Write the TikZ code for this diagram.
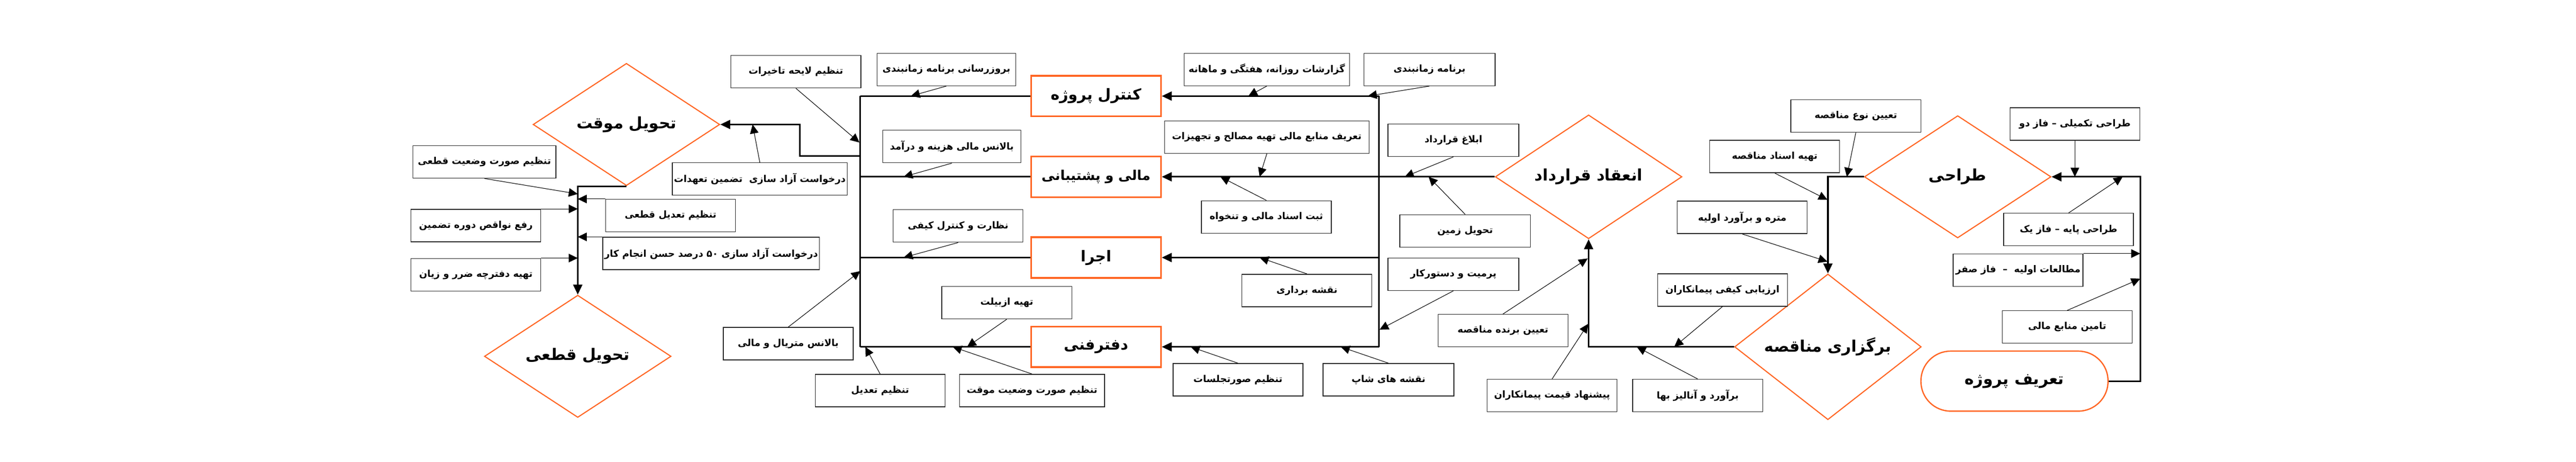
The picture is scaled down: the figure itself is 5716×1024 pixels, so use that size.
\documentclass[tikz,border=0pt]{standalone}
\usepackage{fontspec}
\usepackage{xcolor}
\usetikzlibrary{shapes.geometric, arrows.meta, positioning}
\newfontfamily\arabicfont[Script=Arabic]{DejaVu Sans}
\TeXXeTstate=1
\definecolor{orangeline}{RGB}{255,102,36}
\newcommand{\fa}[1]{\beginR #1\endR}

\begin{document}
\begin{tikzpicture}[
    x=0.01cm, y=-0.01cm,
    task/.style={rectangle, draw=black!85, line width=0.45pt, fill=white, minimum width=2.88cm, minimum height=0.72cm, inner sep=1pt, font=\arabicfont\bfseries\fontsize{6}{7}\selectfont},
    stage/.style={rectangle, draw=orangeline, line width=1.1pt, fill=white, minimum width=2.88cm, minimum height=0.9cm, inner sep=1pt, font=\arabicfont\bfseries\fontsize{9.5}{11}\selectfont},
    phase/.style={diamond, draw=orangeline, line width=0.7pt, minimum width=4.14cm, minimum height=2.71cm, inner sep=0pt, font=\arabicfont\bfseries\fontsize{10}{12}\selectfont},
    start/.style={rectangle, rounded corners=0.66cm, draw=orangeline, line width=0.8pt, minimum width=4.15cm, minimum height=1.33cm, font=\arabicfont\bfseries\fontsize{10}{12}\selectfont},
    flow/.style={-{Triangle[length=0.22cm, width=0.2cm]}, line width=1pt},
    link/.style={line width=1pt},
    feed/.style={-{Triangle[length=0.2cm, width=0.19cm]}, line width=0.35pt}
]
\useasboundingbox (0,0) rectangle (5716,1024);

% main phases
\node[phase] (movaghat) at (1390,276) {\fa{تحویل موقت}};
\node[phase] (ghatei) at (1282,790) {\fa{تحویل قطعی}};
\node[phase] (gharardad) at (3525,392) {\fa{انعقاد قرارداد}};
\node[phase] (monaghese) at (4056,769) {\fa{برگزاری مناقصه}};
\node[phase] (tarahi) at (4344,392) {\fa{طراحی}};
\node[start] (tarif) at (4470,845) {\fa{تعریف پروژه}};

% execution units
\node[stage] (control) at (2432,213) {\fa{کنترل پروژه}};
\node[stage, font=\arabicfont\bfseries\fontsize{8.5}{10}\selectfont] (mali) at (2432,392) {\fa{مالی و پشتیبانی}};
\node[stage] (ejra) at (2432,571) {\fa{اجرا}};
\node[stage] (daftar) at (2432,769) {\fa{دفترفنی}};

% tasks, left part
\node[task, minimum width=3.17cm] (surghatei) at (1075,359) {\fa{تنظیم صورت وضعیت قطعی}};
\node[task] (rafe) at (1056,500) {\fa{رفع نواقص دوره تضمین}};
\node[task] (daftarche) at (1056,609) {\fa{تهیه دفترچه ضرر و زیان}};
\node[task, minimum width=3.76cm] (azadtaahod) at (1686,397) {\fa{درخواست آزاد سازی\ \ تضمین تعهدات}};
\node[task] (tadilghatei) at (1488,478) {\fa{تنظیم تعدیل قطعی}};
\node[task, minimum width=4.66cm] (azad50) at (1578,562) {\fa{درخواست آزاد سازی \beginL ۵۰\endL{} درصد حسن انجام کار}};
\node[task] (layehe) at (1766,159) {\fa{تنظیم لایحه تاخیرات}};
\node[task, minimum width=3.07cm] (boroz) at (2100,154) {\fa{بروزرسانی برنامه زمانبندی}};
\node[task, minimum width=3.06cm] (balansmali) at (2112,325) {\fa{بالانس مالی هزینه و درآمد}};
\node[task] (nezarat) at (2126,501) {\fa{نظارت و کنترل کیفی}};
\node[task] (asbuilt) at (2234,671) {\fa{تهیه ازبیلت}};
\node[task] (material) at (1749,762) {\fa{بالانس متریال و مالی}};
\node[task] (tadil) at (1953,866) {\fa{تنظیم تعدیل}};
\node[task, minimum width=3.22cm] (surmovaghat) at (2290,866) {\fa{تنظیم صورت وضعیت موقت}};

% tasks, right part
\node[task, minimum width=3.67cm] (gozaresh) at (2811,154) {\fa{گزارشات روزانه، هفتگی و ماهانه}};
\node[task, minimum width=2.91cm] (barname) at (3172,154) {\fa{برنامه زمانبندی}};
\node[task, minimum width=4.54cm] (manabe) at (2811,304) {\fa{تعریف منابع مالی تهیه مصالح و تجهیزات}};
\node[task] (asnad) at (2810,481) {\fa{ثبت اسناد مالی و تنخواه}};
\node[task] (bardari) at (2900,644) {\fa{نقشه برداری}};
\node[task] (jalase) at (2747,842) {\fa{تنظیم صورتجلسات}};
\node[task, minimum width=2.9cm] (shop) at (3081,842) {\fa{نقشه های شاپ}};
\node[task, minimum width=2.9cm] (eblagh) at (3225,311) {\fa{ابلاغ قرارداد}};
\node[task, minimum width=2.9cm] (zamin) at (3251,512) {\fa{تحویل زمین}};
\node[task, minimum width=2.9cm] (permit) at (3225,608) {\fa{پرمیت و دستورکار}};
\node[task] (barande) at (3335,733) {\fa{تعیین برنده مناقصه}};
\node[task] (pishnahad) at (3444,877) {\fa{پیشنهاد قیمت پیمانکاران}};
\node[task] (baha) at (3767,877) {\fa{برآورد و آنالیز بها}};
\node[task] (arzyabi) at (3822,643) {\fa{ارزیابی کیفی پیمانکاران}};
\node[task] (noe) at (4118,257) {\fa{تعیین نوع مناقصه}};
\node[task] (asnadmon) at (3938,347) {\fa{تهیه اسناد مناقصه}};
\node[task] (metre) at (3866,482) {\fa{متره و برآورد اولیه}};
\node[task] (takmili) at (4604,275) {\fa{طراحی تکمیلی – فاز دو}};
\node[task] (paye) at (4590,509) {\fa{طراحی پایه – فاز یک}};
\node[task] (motaleat) at (4478,599) {\fa{مطالعات اولیه\ \ –\ \ فاز صفر}};
\node[task] (tamin) at (4587,725) {\fa{تامین منابع مالی}};

% main flow
\coordinate (spineR) at (4749,392);
\draw[flow] (tarif.east) -| (spineR) -- (tarahi.east);
\draw[flow] (tarahi.west) -| (monaghese.north);
\draw[flow] (monaghese.west) -| (gharardad.south);
\draw[flow] (gharardad.west) -- (mali.east);

\coordinate (blockNW) at (1909,213);
\coordinate (blockSW) at (1909,769);
\coordinate (blockNE) at (3060,213);
\coordinate (blockSE) at (3060,769);
\draw[link] (blockNW) -- (blockSW);
\draw[link] (blockNE) -- (blockSE);
\foreach \u in {control, mali, ejra, daftar}
    \draw[link] (\u.west) -- (\u.west -| blockNW);
\foreach \u in {control, ejra, daftar}
    \draw[flow] (\u.east -| blockNE) -- (\u.east);

\coordinate (loopA) at (1909,346);
\coordinate (loopB) at (1775,346);
\draw[flow] (loopA) -- (loopB) |- (movaghat.east);
\draw[flow] (movaghat.south) -| (ghatei.north);

% feeding tasks
\coordinate (in1) at (1282,430);
\draw[feed] (surghatei.south) -- (in1);
\draw[feed] (rafe.north east) -- (rafe.north east -| ghatei.north);
\draw[feed] (daftarche.north east) -- (daftarche.north east -| ghatei.north);
\draw[feed] (tadilghatei.north west) -- (tadilghatei.north west -| ghatei.north);
\draw[feed] (azad50.north west) -- (azad50.north west -| ghatei.north);
\coordinate (in2) at (1670,276);
\draw[feed] (azadtaahod.north) -- (in2);

\coordinate (in3) at (1907,316);
\coordinate (in4) at (2021,213);
\coordinate (in5) at (2005,392);
\coordinate (in6) at (2005,571);
\coordinate (in7) at (2146,769);
\coordinate (in8) at (1909,601);
\coordinate (in9) at (1920,769);
\coordinate (in10) at (2114,769);
\draw[feed] (layehe.south) -- (in3);
\draw[feed] (boroz.south) -- (in4);
\draw[feed] (balansmali.south) -- (in5);
\draw[feed] (nezarat.south) -- (in6);
\draw[feed] (asbuilt.south) -- (in7);
\draw[feed] (material.north) -- (in8);
\draw[feed] (tadil.north) -- (in9);
\draw[feed] (surmovaghat.north) -- (in10);

\coordinate (in11) at (2770,213);
\coordinate (in12) at (3035,213);
\coordinate (in13) at (2795,392);
\coordinate (in14) at (2708,392);
\coordinate (in15) at (2795,571);
\coordinate (in16) at (2642,769);
\coordinate (in17) at (2975,769);
\coordinate (in18) at (3117,392);
\coordinate (in19) at (3170,392);
\coordinate (in20) at (3061,731);
\draw[feed] (gozaresh.south) -- (in11);
\draw[feed] (barname.south) -- (in12);
\draw[feed] (manabe.south) -- (in13);
\draw[feed] (asnad.north) -- (in14);
\draw[feed] (bardari.north) -- (in15);
\draw[feed] (jalase.north) -- (in16);
\draw[feed] (shop.north) -- (in17);
\draw[feed] (eblagh.south) -- (in18);
\draw[feed] (zamin.north) -- (in19);
\draw[feed] (permit.south) -- (in20);

\coordinate (in21) at (3523,573);
\coordinate (in22) at (3524,718);
\coordinate (in23) at (3632,769);
\coordinate (in24) at (3715,769);
\coordinate (in25) at (4098,392);
\coordinate (in26) at (4055,443);
\coordinate (in27) at (4055,580);
\coordinate (in28) at (4710,392);
\coordinate (in29) at (4749,618);
\draw[feed] (barande.north) -- (in21);
\draw[feed] (pishnahad.north) -- (in22);
\draw[feed] (baha.north) -- (in23);
\draw[feed] (arzyabi.south) -- (in24);
\draw[feed] (noe.south) -- (in25);
\draw[feed] (asnadmon.south) -- (in26);
\draw[feed] (metre.south) -- (in27);
\draw[feed] (takmili.south) -- (takmili.south |- tarahi.east);
\draw[feed] (paye.north) -- (in28);
\draw[feed] (motaleat.north east) -- (motaleat.north east -| spineR);
\draw[feed] (tamin.north) -- (in29);

\end{tikzpicture}
\end{document}
